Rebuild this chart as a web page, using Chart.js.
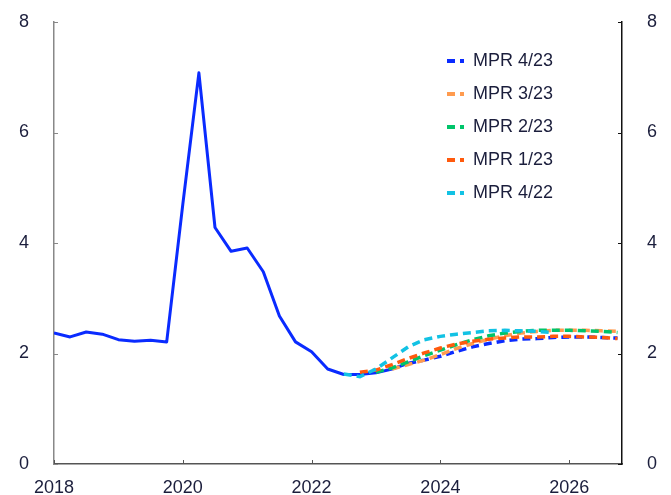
<!DOCTYPE html>
<html lang="en">
<head>
<meta charset="UTF-8">
<title>Inflation projections</title>
<script src="https://cdn.jsdelivr.net/npm/chart.js"></script>
<style>
  html, body { margin: 0; padding: 0; background: #fff; }
  #wrap { width: 671px; height: 495px; }
</style>
</head>
<body>
<div id="wrap"><canvas id="chart"></canvas></div>
<script>
// quarterly series, first quarter is 2018 Q1
const startYear = 2018;
const yearTicks = [2018, 2020, 2022, 2024, 2026];
const valueTicks = [0, 2, 4, 6, 8];

// outcome up to 2023 Q3
const history = [2.37, 2.30, 2.39, 2.35, 2.25, 2.22, 2.24, 2.21,
                 4.70, 7.08, 4.28, 3.85, 3.91, 3.48, 2.68, 2.21,
                 2.03, 1.72, 1.62, 1.62, 1.65, 1.72, 1.82];

// projections, each with the quarter index it starts at
const mpr423 = [1.82, 1.88, 1.95, 2.04, 2.12, 2.18, 2.23, 2.26, 2.27, 2.29, 2.30, 2.30, 2.29, 2.28];
const mpr323 = [1.72, 1.80, 1.88, 1.98, 2.09, 2.18, 2.26, 2.32, 2.37, 2.40, 2.42, 2.42, 2.42, 2.41, 2.40];
const mpr223 = [1.66, 1.74, 1.85, 1.96, 2.06, 2.16, 2.25, 2.32, 2.37, 2.40, 2.42, 2.42, 2.42, 2.41, 2.40, 2.38];
const mpr123 = [1.66, 1.70, 1.80, 1.91, 2.01, 2.10, 2.17, 2.22, 2.26, 2.28, 2.30, 2.30, 2.31, 2.31, 2.30, 2.29, 2.27];
const mpr422 = [1.63, 1.58, 1.72, 1.92, 2.12, 2.25, 2.31, 2.35, 2.38, 2.41, 2.42, 2.41, 2.40, 2.38];

const textColor = '#1b1e3c';

function toPoints(values, startIndex) {
    return values.map((v, i) => ({ x: startYear + (startIndex + i) / 4, y: v }));
}

function dashed(label, values, startIndex, color, order) {
    return {
        label: label,
        data: toPoints(values, startIndex),
        borderColor: color,
        backgroundColor: color,
        borderWidth: 3.5,
        borderDash: [8, 5],
        pointRadius: 0,
        tension: 0,
        order: order
    };
}

const datasets = [
    {
        label: 'History',
        data: toPoints(history, 0),
        borderColor: '#0a2bff',
        borderWidth: 3,
        borderJoinStyle: 'round',
        pointRadius: 0,
        tension: 0,
        order: 10
    },
    dashed('MPR 4/23', mpr423, 22, '#0a2bff', 5),
    dashed('MPR 3/23', mpr323, 21, '#ff9b4f', 4),
    dashed('MPR 2/23', mpr223, 20, '#00c46a', 3),
    dashed('MPR 1/23', mpr123, 19, '#ff5a0d', 2),
    dashed('MPR 4/22', mpr422, 18, '#12c2e4', 1)
];

// legend drawn inside the plot, top right
const insideLegend = {
    id: 'insideLegend',
    afterDatasetsDraw(chart) {
        const ctx = chart.ctx;
        ctx.save();
        ctx.font = '18px "Liberation Sans", Arial, sans-serif';
        ctx.textBaseline = 'middle';
        ctx.fillStyle = textColor;
        datasets.slice(1).forEach((ds, i) => {
            const y = 61 + i * 33;
            ctx.strokeStyle = ds.borderColor;
            ctx.lineWidth = 4;
            ctx.setLineDash([8, 5]);
            ctx.beginPath();
            ctx.moveTo(447, y);
            ctx.lineTo(464, y);
            ctx.stroke();
            ctx.fillText(ds.label, 473, y);
        });
        ctx.restore();
    }
};

// small tick marks pointing into the plot
const innerTicks = {
    id: 'innerTicks',
    afterDraw(chart) {
        const ctx = chart.ctx;
        const a = chart.chartArea;
        const sx = chart.scales.x, sy = chart.scales.y;
        ctx.save();
        ctx.lineWidth = 1;
        ctx.strokeStyle = '#555';
        yearTicks.forEach(v => {
            const px = Math.round(sx.getPixelForValue(v)) + 0.5;
            ctx.beginPath(); ctx.moveTo(px, a.bottom); ctx.lineTo(px, a.bottom - 4); ctx.stroke();
        });
        valueTicks.forEach(v => {
            const py = Math.round(sy.getPixelForValue(v)) + 0.5;
            ctx.strokeStyle = '#888';
            ctx.beginPath(); ctx.moveTo(a.left, py); ctx.lineTo(a.left + 4, py); ctx.stroke();
            ctx.strokeStyle = '#111';
            ctx.beginPath(); ctx.moveTo(a.right, py); ctx.lineTo(a.right - 4, py); ctx.stroke();
        });
        ctx.restore();
    }
};

const tickFont = { family: '"Liberation Sans", Arial, sans-serif', size: 18 };
const noGrid = { display: true, drawOnChartArea: false, drawTicks: false };

function valueAxis(position, width, borderColor) {
    return {
        type: 'linear',
        position: position,
        min: 0,
        max: 8,
        afterBuildTicks: s => { s.ticks = valueTicks.map(v => ({ value: v })); },
        // fixed width, and keep the label padding from pushing the plot down
        afterFit: s => { s.width = width; s.paddingTop = 11; s.paddingBottom = 11; },
        ticks: { font: tickFont, color: textColor, padding: 25 },
        grid: noGrid,
        border: { color: borderColor, width: 1.5 }
    };
}

new Chart(document.getElementById('chart'), {
    type: 'line',
    data: { datasets: datasets },
    options: {
        responsive: true,
        maintainAspectRatio: false,
        animation: false,
        devicePixelRatio: 1,
        layout: { padding: { top: 22, left: 0, right: 0, bottom: 0 } },
        plugins: { legend: { display: false }, tooltip: { enabled: false } },
        scales: {
            x: {
                type: 'linear',
                min: 2018,
                max: 2026.82,
                afterBuildTicks: s => { s.ticks = yearTicks.map(v => ({ value: v })); },
                afterFit: s => { s.height = 31; },
                ticks: { font: tickFont, color: textColor, padding: 13, maxRotation: 0, autoSkip: false,
                         callback: v => String(v) },
                grid: noGrid,
                border: { color: '#555', width: 1.5 }
            },
            y: valueAxis('left', 54, '#888'),
            y2: valueAxis('right', 49, '#111')
        }
    },
    plugins: [insideLegend, innerTicks]
});
</script>
</body>
</html>
